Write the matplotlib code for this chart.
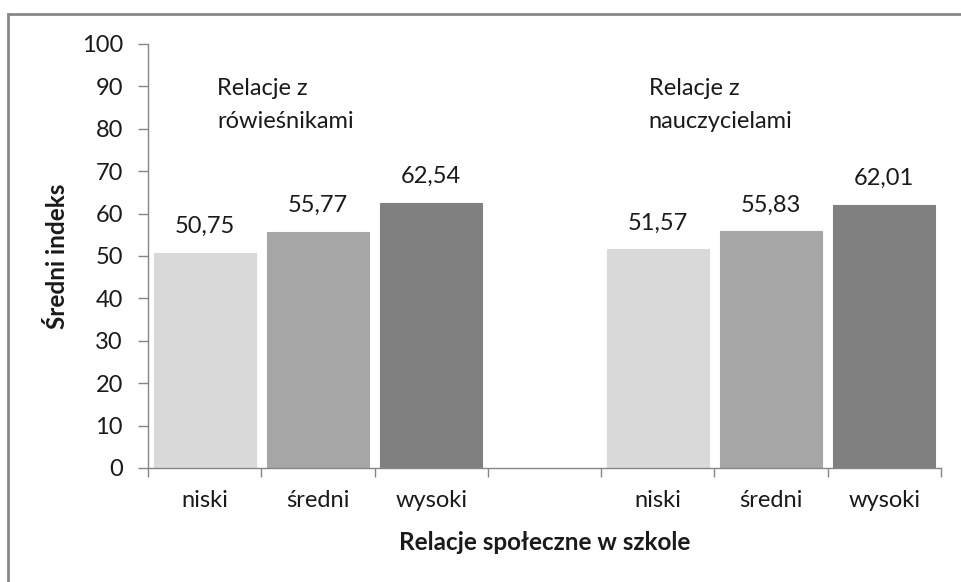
import matplotlib.pyplot as plt
from matplotlib.patches import Rectangle

# średni indeks wg poziomu relacji
categories = ["niski", "średni", "wysoki", "", "niski", "średni", "wysoki"]
rowiesnicy = [50.75, 55.77, 62.54]
nauczyciele = [51.57, 55.83, 62.01]
group_titles = ["Relacje z\nrówieśnikami", "Relacje z\nnauczycielami"]
bar_colors = ["#d9d9d9", "#a6a6a6", "#808080"]

plt.rcParams["font.family"] = ["Lato", "DejaVu Sans"]
axis_gray = "#868686"
text_col = "#1a1a1a"
fs = 17

fig = plt.figure(figsize=(9.62, 5.82), dpi=100)
ax = fig.add_axes([148 / 962, 1 - 468 / 582, (941 - 148) / 962, (468 - 44) / 582])

positions = [0, 1, 2, 4, 5, 6]
values = rowiesnicy + nauczyciele
for k, (x, v) in enumerate(zip(positions, values)):
    col = bar_colors[k % 3]
    ax.bar(x, v, width=0.9, color=col, edgecolor=col, linewidth=0.8, zorder=2)
    ax.text(x, v + 4.7, f"{v:.2f}".replace(".", ","), ha="center", va="baseline",
            fontsize=fs, color=text_col)

# podpisy grup - każda linia osobno
for x0, title in zip([0.11, 3.92], group_titles):
    for y0, line in zip([88.0, 80.2], title.split("\n")):
        ax.text(x0, y0, line, ha="left", va="baseline", fontsize=fs, color=text_col)

ax.set_xlim(-0.5, 6.5)
ax.set_ylim(0, 100)
ax.set_yticks(range(0, 101, 10))
ax.set_xticks([i - 0.5 for i in range(8)], minor=False)
ax.set_xticklabels([])
ax.set_xticks(range(7), minor=True)
ax.set_xticklabels(categories, minor=True)
ax.tick_params(axis="x", which="major", length=6.5, direction="out", color=axis_gray, width=1)
ax.tick_params(axis="x", which="minor", length=0, pad=16, labelsize=fs, labelcolor=text_col)
ax.tick_params(axis="y", length=7, direction="out", color=axis_gray, width=1,
               labelsize=fs, labelcolor=text_col, pad=11)

for s in ["top", "right"]:
    ax.spines[s].set_visible(False)
for s in ["left", "bottom"]:
    ax.spines[s].set_color(axis_gray)
    ax.spines[s].set_linewidth(1)

ax.set_xlabel("Relacje społeczne w szkole", fontsize=17.5, fontweight="bold",
              color=text_col, va="center")
ax.xaxis.set_label_coords(0.5, (468 - 543) / 424)
ax.set_ylabel("Średni indeks", fontsize=17.5, fontweight="bold", color=text_col, va="center")
ax.yaxis.set_label_coords((57 - 148) / 793, 0.5)

# ramka wykresu
fig.patches.append(Rectangle((8 / 962, -0.1), 1.1, 1 - 14 / 582 + 0.1,
                             transform=fig.transFigure, fill=False,
                             edgecolor="#888888", linewidth=2))

fig.savefig("out.png", dpi=100)
